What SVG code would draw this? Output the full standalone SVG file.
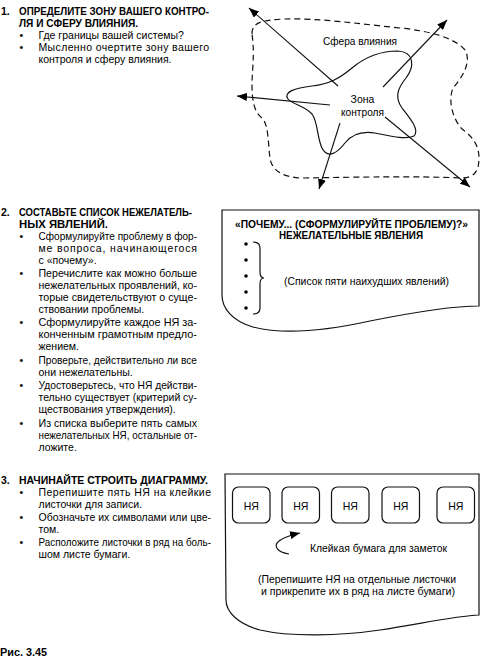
<svg xmlns="http://www.w3.org/2000/svg" width="480" height="663" viewBox="0 0 480 663">
<style>
.t{font-family:"Liberation Sans",Arial,sans-serif;font-size:10.5px;fill:#000}
.b{font-weight:bold}
.ln{fill:none;stroke:#111;stroke-width:1.2}
.dash{fill:none;stroke:#111;stroke-width:1.2;stroke-dasharray:6 4}
.arr{fill:none;stroke:#111;stroke-width:1.1;marker-end:url(#ah)}
.note{fill:#fff;stroke:#111;stroke-width:1.2}
</style>
<defs>
<marker id="ah" markerUnits="userSpaceOnUse" markerWidth="11" markerHeight="8" refX="10" refY="4" orient="auto">
<path d="M0,0 L10,4 L0,8 z" fill="#000"/>
</marker>
</defs>
<rect width="480" height="663" fill="#fff"/>

<g id="step1-text">
<text class="t b" x="1" y="15">1.</text>
<text class="t b" x="19" y="15" textLength="190" lengthAdjust="spacingAndGlyphs">ОПРЕДЕЛИТЕ ЗОНУ ВАШЕГО КОНТРО-</text>
<text class="t b" x="19" y="27" textLength="119" lengthAdjust="spacingAndGlyphs">ЛЯ И СФЕРУ ВЛИЯНИЯ.</text>
<text class="t" x="19.5" y="39">•</text>
<text class="t" x="38.5" y="39">Где границы вашей системы?</text>
<text class="t" x="19.5" y="51">•</text>
<text class="t" x="38.5" y="51" textLength="170.5" lengthAdjust="spacing">Мысленно очертите зону вашего</text>
<text class="t" x="38.5" y="63">контроля и сферу влияния.</text>
</g>

<g id="sphere-of-influence">
<path class="dash" d="M252,34 C252,22 262,20 285,19 C320,18 360,24 400,28 C430,31 455,38 465,50 C472,62 462,78 453,88 C448,100 452,118 462,129 C472,136 479,145 479,158 C479,170 475,178 462,178 C420,176 360,177 305,178 C285,178 272,172 270,158 C268,145 269,125 262,118 C254,112 252,100 252,85 C252,70 255,55 252,34 Z"/>
<text class="t" x="323" y="45" textLength="74" lengthAdjust="spacingAndGlyphs">Сфера влияния</text>
</g>

<g id="zone-of-control">
<path class="ln" d="M288,99 C283,92 295,88 312,86 C330,84 340,78 352,68 C365,57 380,51 398,51 C414,52 415,66 406,78 C398,88 394,97 402,108 C410,118 420,130 414,136 C406,140 390,136 375,133 C362,131 352,134 345,143 C338,152 328,160 322,148 C317,138 318,122 312,114 C305,106 292,104 288,99 Z"/>
<text class="t" x="362.5" y="103" text-anchor="middle">Зона</text>
<text class="t" x="341" y="116" textLength="43" lengthAdjust="spacingAndGlyphs">контроля</text>
</g>

<g id="step2-text">
<text class="t b" x="1" y="216">2.</text>
<text class="t b" x="19" y="216" textLength="173" lengthAdjust="spacingAndGlyphs">СОСТАВЬТЕ СПИСОК НЕЖЕЛАТЕЛЬ-</text>
<text class="t b" x="19" y="228" textLength="89" lengthAdjust="spacingAndGlyphs">НЫХ ЯВЛЕНИЙ.</text>
<text class="t" x="19.5" y="240">•</text>
<text class="t" x="38.5" y="240" textLength="158.5" lengthAdjust="spacingAndGlyphs">Сформулируйте проблему в фор-</text>
<text class="t" x="38.5" y="252" textLength="158.5" lengthAdjust="spacing">ме вопроса, начинающегося</text>
<text class="t" x="38.5" y="264">с «почему».</text>
<text class="t" x="19.5" y="277">•</text>
<text class="t" x="38.5" y="277" textLength="158.5" lengthAdjust="spacingAndGlyphs">Перечислите как можно больше</text>
<text class="t" x="38.5" y="289" textLength="158.5" lengthAdjust="spacingAndGlyphs">нежелательных проявлений, ко-</text>
<text class="t" x="38.5" y="301" textLength="158.5" lengthAdjust="spacingAndGlyphs">торые свидетельствуют о суще-</text>
<text class="t" x="38.5" y="313">ствовании проблемы.</text>
<text class="t" x="19.5" y="326">•</text>
<text class="t" x="38.5" y="326" textLength="158.5" lengthAdjust="spacingAndGlyphs">Сформулируйте каждое НЯ за-</text>
<text class="t" x="38.5" y="338" textLength="158.5" lengthAdjust="spacingAndGlyphs">конченным грамотным предло-</text>
<text class="t" x="38.5" y="350">жением.</text>
<text class="t" x="19.5" y="363.5">•</text>
<text class="t" x="38.5" y="363.5" textLength="158.5" lengthAdjust="spacingAndGlyphs">Проверьте, действительно ли все</text>
<text class="t" x="38.5" y="375.5">они нежелательны.</text>
<text class="t" x="19.5" y="389">•</text>
<text class="t" x="38.5" y="389" textLength="158.5" lengthAdjust="spacingAndGlyphs">Удостоверьтесь, что НЯ действи-</text>
<text class="t" x="38.5" y="401" textLength="158.5" lengthAdjust="spacingAndGlyphs">тельно существует (критерий су-</text>
<text class="t" x="38.5" y="413">ществования утверждения).</text>
<text class="t" x="19.5" y="426.5">•</text>
<text class="t" x="38.5" y="426.5" textLength="158.5" lengthAdjust="spacingAndGlyphs">Из списка выберите пять самых</text>
<text class="t" x="38.5" y="438.5" textLength="158.5" lengthAdjust="spacingAndGlyphs">нежелательных НЯ, остальные от-</text>
<text class="t" x="38.5" y="450.5">ложите.</text>
</g>

<g id="undesirable-effects-sheet">
<path class="note" d="M222,210 H479 V306 C455,306 420,311 370,321 C320,332 280,334 253,327 C232,321 222,308 222,295 Z"/>
<text class="t b" x="235" y="228" textLength="233" lengthAdjust="spacingAndGlyphs">«ПОЧЕМУ... (СФОРМУЛИРУЙТЕ ПРОБЛЕМУ)?»</text>
<text class="t b" x="279" y="239" textLength="144" lengthAdjust="spacingAndGlyphs">НЕЖЕЛАТЕЛЬНЫЕ ЯВЛЕНИЯ</text>
<circle cx="246" cy="244" r="1.8"/>
<circle cx="246" cy="260" r="1.8"/>
<circle cx="246" cy="276" r="1.8"/>
<circle cx="246" cy="292" r="1.8"/>
<circle cx="246" cy="308" r="1.8"/>
<path class="ln" d="M253,242 Q260,242 260,248 V272 Q260,278 264,278 Q260,278 260,284 V308 Q260,314 253,314"/>
<text class="t" x="284" y="285" textLength="165" lengthAdjust="spacingAndGlyphs">(Список пяти наихудших явлений)</text>
</g>

<g id="step3-text">
<text class="t b" x="1" y="484">3.</text>
<text class="t b" x="19" y="484" textLength="189" lengthAdjust="spacingAndGlyphs">НАЧИНАЙТЕ СТРОИТЬ ДИАГРАММУ.</text>
<text class="t" x="19.5" y="496">•</text>
<text class="t" x="38.5" y="496" textLength="172.5" lengthAdjust="spacing">Перепишите пять НЯ на клейкие</text>
<text class="t" x="38.5" y="508">листочки для записи.</text>
<text class="t" x="19.5" y="521">•</text>
<text class="t" x="38.5" y="521" textLength="172.5" lengthAdjust="spacingAndGlyphs">Обозначьте их символами или цве-</text>
<text class="t" x="38.5" y="533">том.</text>
<text class="t" x="19.5" y="546">•</text>
<text class="t" x="38.5" y="546" textLength="172.5" lengthAdjust="spacingAndGlyphs">Расположите листочки в ряд на боль-</text>
<text class="t" x="38.5" y="558">шом листе бумаги.</text>
</g>

<g id="sticky-notes-sheet">
<path class="note" d="M225,474 H479 V615 C455,616 420,624 380,630 C340,636 290,637 260,630 C238,624 226,612 226,600 Z"/>
<text class="t" x="310" y="552" textLength="137" lengthAdjust="spacingAndGlyphs">Клейкая бумага для заметок</text>
<text class="t" x="258" y="583" textLength="198" lengthAdjust="spacingAndGlyphs">(Перепишите НЯ на отдельные листочки</text>
<text class="t" x="261" y="595" textLength="194" lengthAdjust="spacingAndGlyphs">и прикрепите их в ряд на листе бумаги)</text>
</g>

<g id="ne1"><rect class="ln" x="232.5" y="487" width="37.5" height="36" rx="6"/><text class="t" x="251.25" y="510" text-anchor="middle">НЯ</text></g>
<g id="ne2"><rect class="ln" x="282" y="487" width="37.5" height="36" rx="6"/><text class="t" x="300.75" y="510" text-anchor="middle">НЯ</text></g>
<g id="ne3"><rect class="ln" x="331.5" y="487" width="37.5" height="36" rx="6"/><text class="t" x="350.25" y="510" text-anchor="middle">НЯ</text></g>
<g id="ne4"><rect class="ln" x="382" y="487" width="37.5" height="36" rx="6"/><text class="t" x="400.75" y="510" text-anchor="middle">НЯ</text></g>
<g id="ne5"><rect class="ln" x="437" y="487" width="37.5" height="36" rx="6"/><text class="t" x="455.75" y="510" text-anchor="middle">НЯ</text></g>

<g id="caption">
<text class="t b" x="0" y="656" textLength="47" lengthAdjust="spacingAndGlyphs" style="font-size:11px">Рис. 3.45</text>
</g>

<g id="connectors">
<line class="arr" x1="338" y1="86" x2="249" y2="8"/>
<line class="arr" x1="383" y1="87" x2="447" y2="20"/>
<line class="arr" x1="330" y1="105" x2="237" y2="96"/>
<line class="arr" x1="340" y1="123" x2="319" y2="189"/>
<line class="arr" x1="385" y1="117" x2="470" y2="187"/>
<path class="arr" d="M289,554 C277,552 273,546 279,541 C284,537 291,535 300,533"/>
</g>
</svg>
